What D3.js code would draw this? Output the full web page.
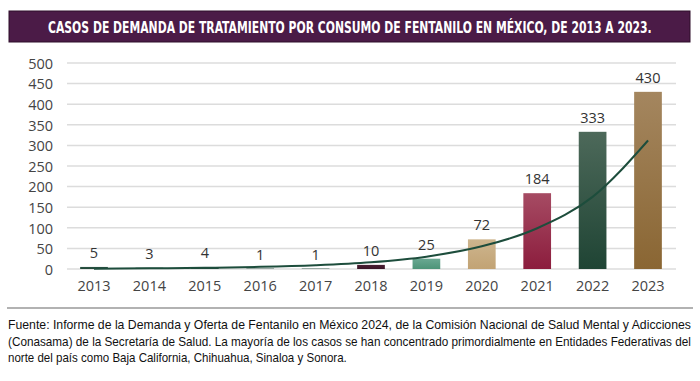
<!DOCTYPE html>
<html>
<head>
<meta charset="utf-8">
<script src="https://cdn.jsdelivr.net/npm/d3@7/dist/d3.min.js"></script>
<style>
  html, body { margin: 0; padding: 0; background: #fff; }
  svg { display: block; }
</style>
</head>
<body>
<svg id="chart" width="700" height="381"></svg>
<script>
// ---- Data ----
const years = ["2013","2014","2015","2016","2017","2018","2019","2020","2021","2022","2023"];
const cases = [5, 3, 4, 1, 1, 10, 25, 72, 184, 333, 430];
const trend = [0.9, 1.6, 2.9, 5.2, 9.3, 16.5, 30, 55, 99, 175, 312];
const yTicks = [0, 50, 100, 150, 200, 250, 300, 350, 400, 450, 500];
const barColors = [
  ["#2c5445", "#1f4535"], ["#2c5445", "#1f4535"], ["#2c5445", "#1f4535"],
  ["#2c5445", "#1f4535"], ["#2c5445", "#1f4535"],
  ["#4a1f33", "#3a1426"], ["#6aa892", "#4d9478"], ["#cdb58e", "#c2a374"],
  ["#a64b63", "#8c1d3d"], ["#4d695a", "#1f4434"], ["#a4865f", "#8a6633"]
];
const titleText = "CASOS DE DEMANDA DE TRATAMIENTO POR CONSUMO DE FENTANILO EN MÉXICO, DE 2013 A 2023.";
const noteLines = [
  "Fuente: Informe de la Demanda y Oferta de Fentanilo en México 2024, de la Comisión Nacional de Salud Mental y Adicciones",
  "(Conasama) de la Secretaría de Salud. La mayoría de los casos se han concentrado primordialmente en Entidades Federativas del",
  "norte del país como Baja California, Chihuahua, Sinaloa y Sonora."
];

// ---- Chart ----
const svg = d3.select("#chart");
const defs = svg.append("defs");

// fit a text horizontally to a target width by scaling it
function fitWidth(sel, left, baseline, target) {
  const w = sel.node().getComputedTextLength();
  const k = target / w;
  sel.attr("x", 0).attr("y", 0)
     .attr("transform", `translate(${left},${baseline}) scale(${k},1)`);
}

// Title bar
svg.append("rect").attr("x", 9).attr("y", 11).attr("width", 681).attr("height", 31)
  .attr("fill", "#4b1b47").attr("stroke", "#2e0f2b").attr("stroke-width", 1);
const title = svg.append("text")
  .attr("font-family", "'DejaVu Sans', sans-serif")
  .attr("font-stretch", "condensed")
  .attr("font-weight", "bold").attr("font-size", 15).attr("fill", "#fff")
  .text(titleText);
fitWidth(title, 48, 32.5, 604);

const x = d3.scaleBand().domain(years).range([66.3, 675.7]).paddingInner(0.5).paddingOuter(0.25);
const y = d3.scaleLinear().domain([0, 500]).range([269, 63]);

// Gridlines
svg.append("g").selectAll("line").data(yTicks).join("line")
  .attr("x1", 67).attr("x2", 676)
  .attr("y1", d => y(d)).attr("y2", d => y(d))
  .attr("stroke", "#dcdcdc").attr("stroke-width", 1.5);

// Y axis labels
const yAxis = d3.axisLeft(y).tickValues(yTicks).tickSize(0).tickPadding(0);
const gy = svg.append("g").attr("transform", "translate(53,0)").call(yAxis);
gy.select(".domain").remove();
gy.selectAll("text").attr("font-family", "'Open Sans', sans-serif").attr("font-size", 14.5)
  .attr("fill", "#444").attr("dy", "0.36em");

// X axis labels
const xAxis = d3.axisBottom(x).tickSize(0).tickPadding(0);
const gx = svg.append("g").attr("transform", "translate(0,281)").call(xAxis);
gx.select(".domain").remove();
gx.selectAll("text").attr("font-family", "'Open Sans', sans-serif").attr("font-size", 14.5)
  .attr("fill", "#444").attr("dy", "0.72em");

// Gradients
years.forEach((yr, i) => {
  const g = defs.append("linearGradient").attr("id", "g" + i)
    .attr("x1", 0).attr("y1", 0).attr("x2", 0).attr("y2", 1);
  g.append("stop").attr("offset", "0%").attr("stop-color", barColors[i][0]);
  g.append("stop").attr("offset", "100%").attr("stop-color", barColors[i][1]);
});

// Bars
svg.append("g").selectAll("rect").data(cases).join("rect")
  .attr("x", (d, i) => x(years[i]))
  .attr("width", x.bandwidth())
  .attr("y", d => y(d))
  .attr("height", d => y(0) - y(d))
  .attr("fill", (d, i) => `url(#g${i})`);

// Value labels
svg.append("g").selectAll("text").data(cases).join("text")
  .attr("x", (d, i) => x(years[i]) + x.bandwidth() / 2)
  .attr("y", d => y(d) - 9)
  .attr("text-anchor", "middle")
  .attr("font-family", "'Open Sans', sans-serif").attr("font-size", 14.5)
  .attr("fill", "#333")
  .text(d => d);

// Trend line
const line = d3.line()
  .x((d, i) => x(years[i]) + x.bandwidth() / 2)
  .y(d => y(d))
  .curve(d3.curveMonotoneX);
svg.append("path").datum(trend).attr("d", line)
  .attr("fill", "none").attr("stroke", "#1d4d3c").attr("stroke-width", 2);

// Separator
svg.append("line").attr("x1", 7).attr("x2", 693).attr("y1", 308).attr("y2", 308)
  .attr("stroke", "#666").attr("stroke-width", 1.2);

// Footnote
const noteWidths = [684, 684, 339];
noteLines.forEach((t, i) => {
  const tx = svg.append("text")
    .attr("font-family", "'Liberation Sans', 'Roboto', sans-serif")
    .attr("font-size", 12.8).attr("fill", "#111")
    .text(t);
  fitWidth(tx, 8, 329 + i * 16.5, noteWidths[i]);
});
</script>
</body>
</html>
